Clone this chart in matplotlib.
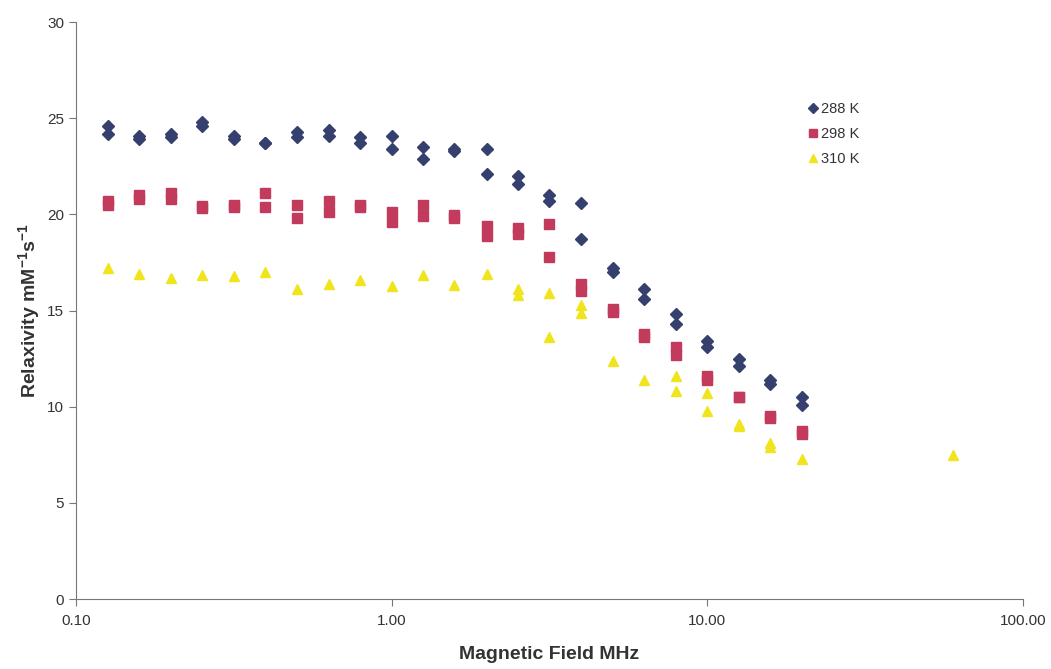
import matplotlib
matplotlib.use("Agg")
import matplotlib.pyplot as plt
from matplotlib.ticker import FixedLocator, FixedFormatter, NullLocator

# field (MHz) and relaxivity (mM^-1 s^-1), two runs per field for most points
field_288 = [0.126, 0.126, 0.158, 0.158, 0.2, 0.2, 0.251, 0.251, 0.316, 0.316,
             0.398, 0.398, 0.501, 0.501, 0.631, 0.631, 0.794, 0.794, 1.0, 1.0,
             1.26, 1.26, 1.58, 1.58, 2.0, 2.0, 2.51, 2.51, 3.16, 3.16,
             3.98, 3.98, 5.01, 5.01, 6.31, 6.31, 7.94, 7.94, 10.0, 10.0,
             12.6, 12.6, 15.8, 15.8, 20.0, 20.0]
r_288 = [24.6, 24.2, 24.1, 23.9, 24.2, 24.0, 24.8, 24.6, 24.1, 23.9,
         23.7, 23.7, 24.3, 24.0, 24.4, 24.1, 24.0, 23.7, 24.1, 23.4,
         23.5, 22.9, 23.4, 23.3, 23.4, 22.1, 22.0, 21.6, 21.0, 20.7,
         20.6, 18.7, 17.2, 17.0, 16.1, 15.6, 14.8, 14.3, 13.4, 13.1,
         12.5, 12.1, 11.4, 11.2, 10.5, 10.1]

field_298 = field_288
r_298 = [20.7, 20.5, 21.0, 20.8, 21.1, 20.8, 20.45, 20.35, 20.5, 20.4,
         21.1, 20.4, 20.5, 19.8, 20.7, 20.1, 20.5, 20.4, 20.1, 19.6,
         20.5, 19.9, 19.95, 19.8, 19.4, 18.9, 19.3, 19.0, 19.5, 17.8,
         16.4, 16.0, 15.1, 14.9, 13.8, 13.6, 13.1, 12.7, 11.6, 11.4,
         10.5, 10.5, 9.5, 9.4, 8.75, 8.6]

field_310 = [0.126, 0.158, 0.2, 0.251, 0.316, 0.398, 0.501, 0.631, 0.794, 1.0,
             1.26, 1.58, 2.0, 2.51, 2.51, 3.16, 3.16, 3.98, 3.98, 5.01,
             6.31, 7.94, 7.94, 10.0, 10.0, 12.6, 12.6, 15.8, 15.8, 20.0, 60.0]
r_310 = [17.2, 16.9, 16.7, 16.85, 16.8, 17.0, 16.1, 16.4, 16.6, 16.3,
         16.85, 16.35, 16.9, 16.1, 15.8, 15.9, 13.6, 15.3, 14.85, 12.4,
         11.4, 11.6, 10.8, 10.7, 9.8, 9.1, 9.0, 8.1, 7.9, 7.3, 7.5]

x_ticks = [0.1, 1, 10, 100]
x_labels = ["0.10", "1.00", "10.00", "100.00"]
y_ticks = [0, 5, 10, 15, 20, 25, 30]

plt.rcParams['font.family'] = ['Liberation Sans', 'DejaVu Sans']
plt.rcParams['mathtext.fontset'] = 'custom'
plt.rcParams['mathtext.rm'] = 'Liberation Sans:bold'
plt.rcParams['mathtext.it'] = 'Liberation Sans:bold'
plt.rcParams['mathtext.bf'] = 'Liberation Sans:bold'

fig = plt.figure(figsize=(10.51, 6.69), dpi=100)
ax = fig.add_axes([0.0723, 0.1046, 0.901, 0.8624])

ax.plot(field_288, r_288, 'D', color='#36406e', markersize=6, label='288 K')
ax.plot(field_298, r_298, 's', color='#c23a5c', markersize=7, label='298 K')
ax.plot(field_310, r_310, '^', color='#f0e41c', markersize=7, label='310 K')

ax.set_xscale('log')
ax.set_xlim(0.1, 100)
ax.set_ylim(0, 30)
ax.xaxis.set_major_locator(FixedLocator(x_ticks))
ax.xaxis.set_major_formatter(FixedFormatter(x_labels))
ax.xaxis.set_minor_locator(NullLocator())
ax.set_yticks(y_ticks)

for side in ('top', 'right'):
    ax.spines[side].set_visible(False)
for side in ('left', 'bottom'):
    ax.spines[side].set_color('#777777')
ax.tick_params(colors='#777777', labelcolor='#333333', labelsize=11, length=5)
ax.tick_params(axis='x', pad=6)

label_font = dict(fontsize=14, fontweight='bold', color='#333333')
ax.set_xlabel('Magnetic Field MHz', labelpad=13, **label_font)
ax.set_ylabel('Relaxivity mM$^{-1}$s$^{-1}$', labelpad=4, **label_font)

ax.legend(loc='upper left', bbox_to_anchor=(0.765, 0.872), frameon=False,
          handletextpad=0.1, handlelength=0.9, labelspacing=0.75,
          fontsize=10.5, labelcolor='#333333', borderaxespad=0, markerscale=0.8)

fig.savefig('out.png', dpi=100)
